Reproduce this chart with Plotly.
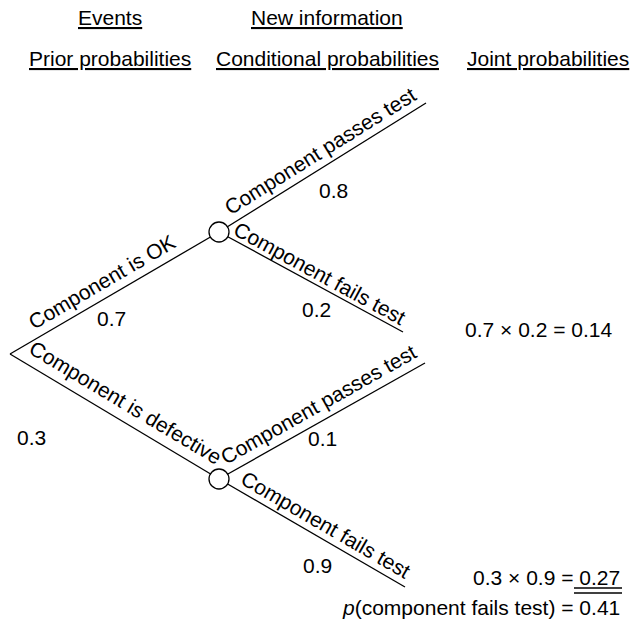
import math
import plotly.graph_objects as go

# ---------------- data ----------------
events = ["Component is OK", "Component is defective"]
prior_probs = [0.7, 0.3]
test_outcomes = ["Component passes test", "Component fails test"]
conditional_probs = [[0.8, 0.2], [0.1, 0.9]]
joint_fail = [0.14, 0.27]
total_fail = 0.41
header_row1 = ["Events", "New information"]
header_row2 = ["Prior probabilities", "Conditional probabilities", "Joint probabilities"]

# ---------------- layout geometry (pixels) ----------------
W, H = 632, 623
FONT = "Liberation Sans, Arial, Helvetica, sans-serif"
FS = 21
root = (10, 354)
event_nodes = [(219, 232), (219, 479)]
leaf_ends = [[(426, 103), (403, 332)], [(425, 363), (405, 587)]]
event_label_t = [0.48, 0.51]
event_label_off = [16, 18]
outcome_label_t = [[0.53, 0.52], [0.52, 0.535]]
outcome_label_off = [[15, 12], [16.5, 14]]
prior_num_pos = [(111, 318), (31, 437)]
cond_num_pos = [[(333, 190), (316, 309)], [(322, 438), (317, 565)]]
header_x = [110, 327, 548]
header_y = [17, 58]

fig = go.Figure()
annotations = []


def seg_label(p0, p1, t, off, text):
    dx, dy = p1[0] - p0[0], p1[1] - p0[1]
    L = math.hypot(dx, dy)
    ux, uy = dx / L, dy / L
    nx, ny = uy, -ux  # normal pointing to the upper side
    cx = p0[0] + t * dx + off * nx
    cy = p0[1] + t * dy + off * ny
    ang = math.degrees(math.atan2(dy, dx))
    return dict(x=cx, y=cy, text=text, textangle=ang, showarrow=False,
                xanchor="center", yanchor="middle",
                font=dict(family=FONT, size=FS, color="black"))


def add_line(p0, p1):
    fig.add_trace(go.Scatter(x=[p0[0], p1[0]], y=[p0[1], p1[1]], mode="lines",
                             line=dict(color="black", width=1.3),
                             hoverinfo="skip", showlegend=False))


for i, node in enumerate(event_nodes):
    add_line(root, node)
    annotations.append(seg_label(root, node, event_label_t[i], event_label_off[i], events[i]))
    annotations.append(dict(x=prior_num_pos[i][0], y=prior_num_pos[i][1], text=str(prior_probs[i]),
                            showarrow=False, font=dict(family=FONT, size=FS, color="black")))
    for j, end in enumerate(leaf_ends[i]):
        add_line(node, end)
        annotations.append(seg_label(node, end, outcome_label_t[i][j], outcome_label_off[i][j],
                                     test_outcomes[j]))
        annotations.append(dict(x=cond_num_pos[i][j][0], y=cond_num_pos[i][j][1],
                                text=str(conditional_probs[i][j]), showarrow=False,
                                font=dict(family=FONT, size=FS, color="black")))

# chance nodes
fig.add_trace(go.Scatter(x=[n[0] for n in event_nodes], y=[n[1] for n in event_nodes],
                         mode="markers",
                         marker=dict(size=20, color="white", line=dict(color="black", width=1.3)),
                         hoverinfo="skip", showlegend=False))

# joint probabilities
annotations.append(dict(x=538, y=329,
                        text=f"{prior_probs[0]} \u00d7 {conditional_probs[0][1]} = {joint_fail[0]}",
                        showarrow=False, xanchor="center",
                        font=dict(family=FONT, size=FS, color="black")))
annotations.append(dict(x=622, y=577,
                        text=f"{prior_probs[1]} \u00d7 {conditional_probs[1][1]} = {joint_fail[1]}",
                        showarrow=False, xanchor="right",
                        font=dict(family=FONT, size=FS, color="black")))
annotations.append(dict(x=622, y=607,
                        text=f"<i>p</i>(component fails test) = {total_fail}",
                        showarrow=False, xanchor="right",
                        font=dict(family=FONT, size=FS, color="black")))

# headers
for k, txt in enumerate(header_row1):
    annotations.append(dict(x=header_x[k], y=header_y[0], text=f"<u>{txt}</u>", showarrow=False,
                            font=dict(family=FONT, size=FS, color="black")))
for k, txt in enumerate(header_row2):
    annotations.append(dict(x=header_x[k], y=header_y[1], text=f"<u>{txt}</u>", showarrow=False,
                            font=dict(family=FONT, size=FS, color="black")))

shapes = [
    dict(type="line", x0=574, x1=622, y0=588, y1=588, line=dict(color="black", width=1.3)),
    dict(type="line", x0=574, x1=622, y0=593, y1=593, line=dict(color="black", width=1.3)),
]

fig.update_layout(
    width=W, height=H,
    margin=dict(l=0, r=0, t=0, b=0),
    paper_bgcolor="white", plot_bgcolor="white",
    xaxis=dict(range=[0, W], visible=False, fixedrange=True),
    yaxis=dict(range=[H, 0], visible=False, fixedrange=True),
    annotations=annotations,
    shapes=shapes,
)

fig.write_html("out.html", config={"displayModeBar": False},
               post_script="document.body.style.margin='0';document.body.style.overflow='hidden';")
